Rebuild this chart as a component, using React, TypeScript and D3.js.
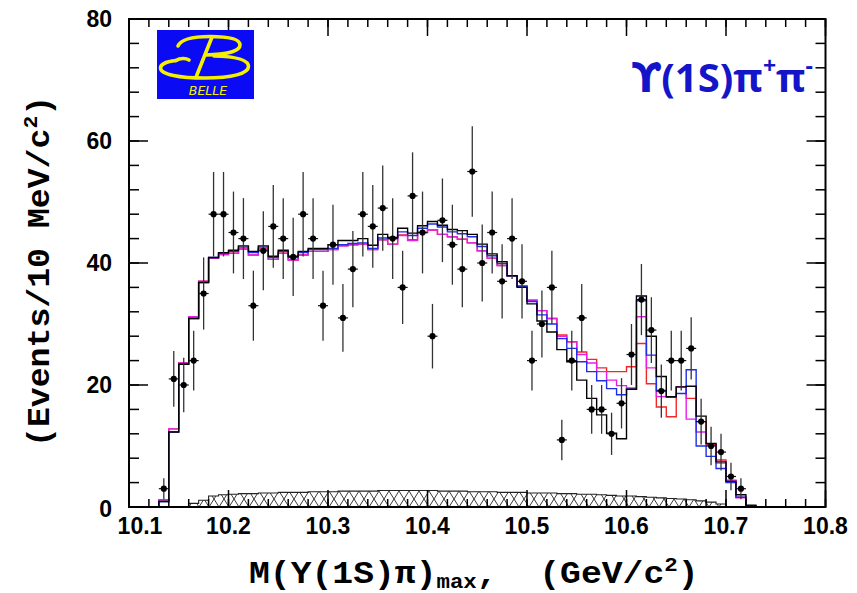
import React from "react";
import * as d3 from "d3";

// ---------- data ----------
const binLow = [
  10.13, 10.14, 10.15, 10.16, 10.17, 10.18, 10.19, 10.2, 10.21, 10.22,
  10.23, 10.24, 10.25, 10.26, 10.27, 10.28, 10.29, 10.3, 10.31, 10.32,
  10.33, 10.34, 10.35, 10.36, 10.37, 10.38, 10.39, 10.4, 10.41, 10.42,
  10.43, 10.44, 10.45, 10.46, 10.47, 10.48, 10.49, 10.5, 10.51, 10.52,
  10.53, 10.54, 10.55, 10.56, 10.57, 10.58, 10.59, 10.6, 10.61, 10.62,
  10.63, 10.64, 10.65, 10.66, 10.67, 10.68, 10.69, 10.7, 10.71, 10.72,
];
const BIN_WIDTH = 0.01;

const dataCounts: (number | null)[] = [
  3, 21, 20, 24, 35, 48, 48, 45, 44, 33,
  42, 46, 44, 41, 48, 44, 33, 43, 31, 39,
  48, 46, 49, 44, 36, 51, 45, 28, 47, 43,
  39, 55, 40, 45, 37, 44, 37, 24, 30, 36,
  11, 24, 31, 16, 16, 12, 17, 25, 34, 29,
  19, 24, 24, 26, 14, 10, 9, 5, 3, null,
];

const fitBlack = [
  0.9, 12.3, 23.4, 30.9, 36.8, 40.9, 41.7, 42.1, 42.8, 41.9,
  42.8, 41.1, 42.1, 41.1, 41.9, 42.4, 42.4, 43.0, 43.7, 43.7,
  44.0, 42.9, 44.7, 44.2, 45.7, 44.9, 46.1, 46.8, 46.2, 45.5,
  45.3, 44.7, 43.1, 41.5, 40.2, 37.9, 36.0, 33.3, 30.5, 28.7,
  25.8, 23.8, 20.8, 17.8, 15.1, 12.1, 11.2, 19.3, 34.6, 28.0,
  21.4, 18.1, 19.7, 19.8, 14.9, 10.4, 7.4, 4.2, 2.0, 0.3,
];
const fitBlue = [
  0.9, 12.3, 23.4, 30.9, 36.8, 40.9, 41.6, 41.9, 42.6, 41.7,
  42.6, 40.9, 41.9, 40.9, 41.7, 42.2, 42.2, 42.4, 43.0, 43.2,
  43.3, 42.4, 44.1, 44.0, 45.1, 44.5, 45.7, 46.4, 45.9, 45.1,
  44.8, 44.3, 42.7, 41.2, 39.9, 37.9, 36.2, 33.7, 31.5, 30.0,
  27.6, 26.0, 23.8, 22.2, 20.7, 19.4, 18.4, 19.3, 33.8, 24.9,
  19.1, 18.0, 18.6, 22.5, 10.0, 8.3, 6.3, 4.0, 1.6, 0.2,
];
const fitMagenta = [
  1.2, 12.8, 23.6, 31.2, 37.0, 40.8, 41.4, 41.6, 42.3, 41.3,
  42.3, 40.6, 41.6, 40.5, 41.3, 41.9, 41.9, 42.2, 42.8, 43.0,
  43.1, 42.2, 43.8, 43.1, 44.5, 43.7, 45.0, 45.4, 44.7, 44.3,
  43.9, 43.3, 42.0, 40.8, 39.6, 37.9, 36.2, 33.9, 32.2, 30.9,
  28.0, 27.1, 25.0, 23.6, 22.2, 20.8, 19.9, 19.5, 31.2, 22.8,
  18.1, 18.1, 19.7, 14.4, 12.3, 10.1, 7.2, 4.3, 1.5, 0.2,
];
const fitRed = [
  1.2, 12.8, 23.6, 31.2, 37.0, 40.8, 41.4, 41.6, 42.3, 41.3,
  42.3, 40.6, 41.6, 40.5, 41.3, 41.9, 41.9, 42.2, 42.8, 43.0,
  43.1, 42.2, 43.8, 43.1, 44.6, 43.8, 45.0, 45.4, 44.7, 44.3,
  43.9, 43.3, 42.0, 40.8, 39.6, 37.9, 36.2, 33.9, 32.2, 30.9,
  28.2, 27.1, 25.4, 24.2, 22.8, 22.2, 22.2, 23.0, 26.8, 20.2,
  16.4, 14.8, 19.7, 17.8, 14.0, 10.2, 7.7, 4.4, 1.6, 0.2,
];
const background = [
  0, 0, 0, 0.6, 1.1, 1.8, 2.0, 2.1, 2.2, 2.2,
  2.3, 2.3, 2.4, 2.4, 2.4, 2.5, 2.5, 2.5, 2.6, 2.6,
  2.6, 2.6, 2.7, 2.7, 2.7, 2.7, 2.7, 2.7, 2.6, 2.6,
  2.6, 2.5, 2.5, 2.5, 2.4, 2.4, 2.4, 2.3, 2.3, 2.3,
  2.2, 2.2, 2.1, 2.1, 2.0, 1.9, 1.8, 1.8, 1.7, 1.6,
  1.5, 1.4, 1.3, 1.2, 1.0, 0.8, 0.5, 0, 0, 0,
];

const xTickValues = [10.1, 10.2, 10.3, 10.4, 10.5, 10.6, 10.7, 10.8];
const xTickLabels = ["10.1", "10.2", "10.3", "10.4", "10.5", "10.6", "10.7", "10.8"];
const yTickValues = [0, 20, 40, 60, 80];
const yTickLabels = ["0", "20", "40", "60", "80"];

// ---------- layout ----------
const W = 857;
const H = 593;
const L = 129;
const R = 825.5;
const T = 19;
const B = 507;
const X_MIN = 10.1;
const X_MAX = 10.8;

const x = d3.scaleLinear().domain([X_MIN, X_MAX]).range([L, R]);
const y = d3.scaleLinear().domain([0, 80]).range([B, T]);

function stepPts(vals: number[]): [number, number][] {
  const pts: [number, number][] = [[X_MIN, 0]];
  binLow.forEach((b, i) => pts.push([b, vals[i]]));
  pts.push([binLow[binLow.length - 1] + BIN_WIDTH, 0]);
  pts.push([X_MAX, 0]);
  return pts;
}

const stepLine = d3
  .line<[number, number]>()
  .x((d) => x(d[0]))
  .y((d) => y(d[1]))
  .curve(d3.curveStepAfter);

const stepArea = d3
  .area<[number, number]>()
  .x((d) => x(d[0]))
  .y0(y(0))
  .y1((d) => y(d[1]))
  .curve(d3.curveStepAfter);

const fits = [
  { vals: fitRed, color: "#f02828" },
  { vals: fitMagenta, color: "#e81ee8" },
  { vals: fitBlue, color: "#1e2ee6" },
  { vals: fitBlack, color: "#000000" },
];

export default function App() {
  const xMinor = d3.range(0, 36).map((i) => X_MIN + i * 0.02);
  const yMinor = d3.range(0, 21).map((i) => i * 4);
  const labelFont = "'Liberation Sans', Arial, sans-serif";
  const monoFont = "'Liberation Mono', 'Courier New', monospace";
  const pre = { whiteSpace: "pre" as const };

  return (
    <svg
      width={W}
      height={H}
      style={{ position: "absolute", left: 0, top: 0, background: "#fff" }}
    >
      <defs>
        <pattern
          id="hatch"
          patternUnits="userSpaceOnUse"
          width={10}
          height={16}
          x={L}
          y={B}
        >
          <path d="M0,0 L10,16 M10,0 L0,16" stroke="#222" strokeWidth={0.9} fill="none" />
        </pattern>
        <clipPath id="plotclip">
          <rect x={L} y={T} width={R - L} height={B - T} />
        </clipPath>
      </defs>
      <rect x={0} y={0} width={W} height={H} fill="#fff" />

      {/* background hatched histogram */}
      <path d={stepArea(stepPts(background)) || ""} fill="url(#hatch)" stroke="none" />
      <path d={stepLine(stepPts(background)) || ""} fill="none" stroke="#222" strokeWidth={1.1} />

      {/* fit histograms */}
      <g clipPath="url(#plotclip)">
        {fits.map((f, i) => (
          <path
            key={i}
            d={stepLine(stepPts(f.vals)) || ""}
            fill="none"
            stroke={f.color}
            strokeWidth={1.4}
          />
        ))}
      </g>

      {/* data points */}
      <g>
        {binLow.map((b, i) => {
          const n = dataCounts[i];
          if (n === null) return null;
          const cx = x(b + BIN_WIDTH / 2);
          const e = Math.sqrt(n);
          return (
            <g key={i}>
              <line x1={cx} x2={cx} y1={y(n - e)} y2={y(n + e)} stroke="#333" strokeWidth={1.3} />
              <line x1={cx - 5} x2={cx + 5} y1={y(n)} y2={y(n)} stroke="#111" strokeWidth={1.2} />
              <circle cx={cx} cy={y(n)} r={3.1} fill="#000" />
            </g>
          );
        })}
      </g>

      {/* frame */}
      <rect x={L} y={T} width={R - L} height={B - T} fill="none" stroke="#000" strokeWidth={2} />

      {/* x ticks */}
      {xMinor.map((v, i) => (
        <g key={"xm" + i}>
          <line x1={x(v)} x2={x(v)} y1={B} y2={B - 8} stroke="#000" strokeWidth={1.5} />
          <line x1={x(v)} x2={x(v)} y1={T} y2={T + 8} stroke="#000" strokeWidth={1.5} />
        </g>
      ))}
      {xTickValues.map((v, i) => (
        <g key={"xM" + i}>
          <line x1={x(v)} x2={x(v)} y1={B} y2={B - 17} stroke="#000" strokeWidth={1.5} />
          <line x1={x(v)} x2={x(v)} y1={T} y2={T + 17} stroke="#000" strokeWidth={1.5} />
          <text
            x={i === 0 ? x(v) + 11 : x(v)}
            y={534}
            textAnchor="middle"
            fontFamily={labelFont}
            fontWeight="bold"
            fontSize={23}
            fill="#000"
          >
            {xTickLabels[i]}
          </text>
        </g>
      ))}

      {/* y ticks */}
      {yMinor.map((v, i) => (
        <g key={"ym" + i}>
          <line x1={L} x2={L + 10} y1={y(v)} y2={y(v)} stroke="#000" strokeWidth={1.5} />
          <line x1={R} x2={R - 10} y1={y(v)} y2={y(v)} stroke="#000" strokeWidth={1.5} />
        </g>
      ))}
      {yTickValues.map((v, i) => (
        <g key={"yM" + i}>
          <line x1={L} x2={L + 19} y1={y(v)} y2={y(v)} stroke="#000" strokeWidth={1.5} />
          <line x1={R} x2={R - 19} y1={y(v)} y2={y(v)} stroke="#000" strokeWidth={1.5} />
          <text
            x={112}
            y={v === 0 ? y(v) + 2 : y(v)}
            dy="0.36em"
            textAnchor="end"
            fontFamily={labelFont}
            fontWeight="bold"
            fontSize={23}
            fill="#000"
          >
            {yTickLabels[i]}
          </text>
        </g>
      ))}

      {/* axis titles */}
      <g transform="translate(249,583) scale(1.12,1)">
        <text x={0} y={0} fontFamily={monoFont} fontWeight="bold" fontSize={31} fill="#000" style={pre}>
          M(Y(1S)π)
          <tspan fontSize={20} dy={5}>max</tspan>
          <tspan dy={-5}>{",  (GeV/c"}</tspan>
          <tspan fontSize={20} dy={-12}>2</tspan>
          <tspan dy={12}>)</tspan>
        </text>
      </g>
      <g transform="translate(49,447) rotate(-90) scale(1.07,1)">
        <text x={0} y={0} fontFamily={monoFont} fontWeight="bold" fontSize={31} fill="#000" style={pre}>
          (Events/10 MeV/c
          <tspan fontSize={20} dy={-12}>2</tspan>
          <tspan dy={12}>)</tspan>
        </text>
      </g>

      {/* Belle logo */}
      <g>
        <rect x={157} y={30} width={97} height={69} fill="#0a0af5" />
        <g fill="none" stroke="#f5f000" strokeWidth={3.6} strokeLinecap="round">
          <path d="M178,46 C181,39 194,36.5 210,36.5 C229,36.5 240,39 240,45 C240,51.5 226,54.5 206,55" />
          <path d="M176,60.5 C166,61.5 160.5,64.5 160.5,68 C160.5,74.5 180,78 205,78 C232,78 248.5,73.5 248.5,66.5 C248.5,59.5 234,56.5 214,56" />
          <path d="M212,37 L196.5,76" />
          <path d="M176,60.5 C180,58 186,58 189,60" />
        </g>
        <text
          x={208}
          y={95}
          textAnchor="middle"
          fontFamily="'DejaVu Sans', sans-serif"
          fontStyle="italic"
          fontSize={12.5}
          fill="#f5f000"
        >
          BELLE
        </text>
      </g>

      {/* channel label */}
      <text
        x={813}
        y={92}
        textAnchor="end"
        fontFamily="'Open Sans', 'Noto Sans', sans-serif"
        fontWeight="bold"
        fontSize={40}
        fill="#1414c8"
      >
        <tspan fontFamily="'DejaVu Sans', sans-serif">ϒ</tspan>
        (1S)π
        <tspan fontSize={23} dy={-18}>+</tspan>
        <tspan dy={18}>π</tspan>
        <tspan fontSize={23} dy={-18}>-</tspan>
      </text>
    </svg>
  );
}
